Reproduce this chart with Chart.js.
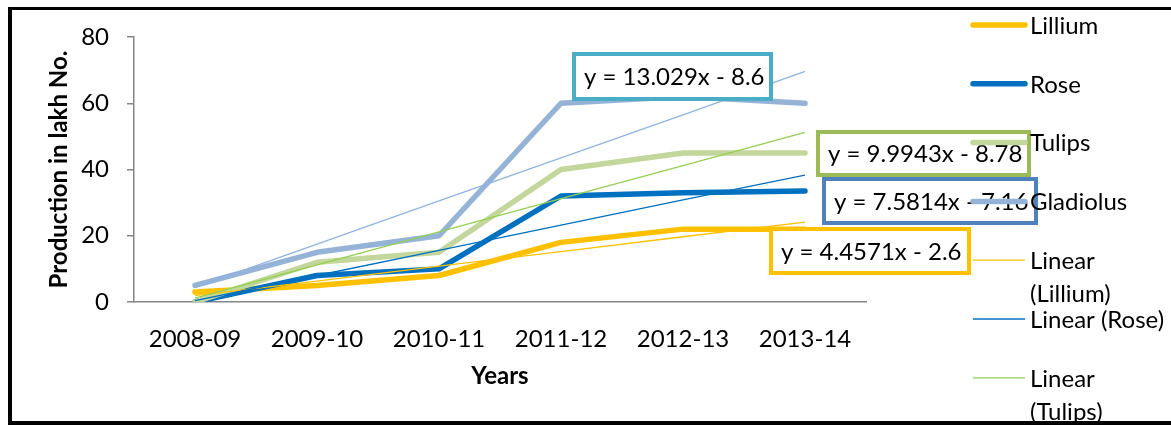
<!DOCTYPE html>
<html>
<head>
<meta charset="utf-8">
<script src="https://cdn.jsdelivr.net/npm/chart.js@4/dist/chart.umd.min.js"></script>
<style>
  html, body { margin: 0; padding: 0; background: #fff; }
  #wrap { position: relative; width: 1171px; height: 425px; }
</style>
</head>
<body>
<div id="wrap"><canvas id="chart"></canvas></div>
<script>
// data
const years = ['2008-09', '2009-10', '2010-11', '2011-12', '2012-13', '2013-14'];
const lillium = [3, 5, 8, 18, 22, 22];
const rose = [0, 8, 10, 32, 33, 33.5];
const tulips = [0, 12, 15, 40, 45, 45];
const gladiolus = [5, 15, 20, 60, 62, 60];

// trend lines
const trendLillium = [1.9, 6.3, 10.8, 15.2, 19.7, 24.1];
const trendRose = [0.4, 8.0, 15.6, 23.2, 30.8, 38.3];
const trendTulips = [1.2, 11.2, 21.2, 31.2, 41.2, 51.2];
const trendGladiolus = [4.4, 17.5, 30.5, 43.5, 56.5, 69.6];

const yTicks = [0, 20, 40, 60, 80];
const equations = ['y = 13.029x - 8.6', 'y = 9.9943x - 8.78', 'y = 7.5814x - 7.16', 'y = 4.4571x - 2.6'];

const FONT = 'Lato';
const FS = 24;

// equation label boxes (layout only)
const eqBoxes = [
  { x: 574, y: 54, w: 197, h: 45, color: '#4BACC6' },
  { x: 818, y: 132, w: 211, h: 43, color: '#9BBB59' },
  { x: 824, y: 179, w: 212, h: 44, color: '#4F81BD' },
  { x: 771, y: 229, w: 198, h: 44, color: '#FFC000' }
];

const overlay = {
  id: 'overlay',
  afterDraw(chart) {
    const ctx = chart.ctx;
    ctx.save();

    // trendline equations
    ctx.font = FS + 'px ' + FONT;
    ctx.textBaseline = 'middle';
    ctx.textAlign = 'left';
    eqBoxes.forEach((b, i) => {
      ctx.fillStyle = '#fff';
      ctx.fillRect(b.x, b.y, b.w, b.h);
      ctx.lineWidth = 4;
      ctx.strokeStyle = b.color;
      ctx.strokeRect(b.x, b.y, b.w, b.h);
      ctx.fillStyle = '#000';
      ctx.fillText(equations[i], b.x + 10, b.y + b.h / 2 + 1);
    });

    // legend (last entry cut off by the frame, like the original)
    const sets = chart.data.datasets.slice(0, 7);
    let y = 25;
    sets.forEach(ds => {
      ctx.beginPath();
      ctx.lineCap = ds.borderWidth > 3 ? 'round' : 'butt';
      ctx.lineWidth = ds.borderWidth;
      ctx.strokeStyle = ds.borderColor;
      ctx.moveTo(973, y);
      ctx.lineTo(1025, y);
      ctx.stroke();
      ctx.fillStyle = '#000';
      const words = ds.label.split(' ');
      const lines = [];
      let cur = '';
      words.forEach(w => {
        const t = cur ? cur + ' ' + w : w;
        if (cur && ctx.measureText(t).width > 142) { lines.push(cur); cur = w; }
        else cur = t;
      });
      lines.push(cur);
      lines.forEach((l, k) => ctx.fillText(l, 1030, y + 1 + k * 33));
      y += 58.8;
    });

    // outer frame
    ctx.fillStyle = '#000';
    ctx.fillRect(8, 7, 1171, 3);
    ctx.fillRect(8, 421, 1171, 4);
    ctx.fillRect(8, 7, 4, 418);
    ctx.restore();
  }
};

function line(label, data, color, width, order) {
  return {
    label, data, order,
    borderColor: color,
    backgroundColor: color,
    borderWidth: width,
    pointRadius: 0,
    tension: 0,
    fill: false,
    borderCapStyle: width > 3 ? 'round' : 'butt',
    borderJoinStyle: 'round'
  };
}

function draw() {
  new Chart(document.getElementById('chart'), {
    type: 'line',
    data: {
      labels: years,
      datasets: [
        line('Lillium', lillium, '#FFC000', 5.5, 7),
        line('Rose', rose, '#0070C0', 5.5, 6),
        line('Tulips', tulips, '#C3D69B', 5.5, 5),
        line('Gladiolus', gladiolus, '#95B3D7', 5.5, 4),
        line('Linear (Lillium)', trendLillium, '#FFC000', 1.3, 3),
        line('Linear (Rose)', trendRose, '#0070C0', 1.3, 2),
        line('Linear (Tulips)', trendTulips, '#92D050', 1.3, 1),
        line('Linear (Gladiolus)', trendGladiolus, '#8DB4E2', 1.3, 0)
      ]
    },
    options: {
      responsive: true,
      maintainAspectRatio: false,
      animation: false,
      layout: { padding: { top: 37, right: 305, bottom: 0, left: 0 } },
      plugins: { legend: { display: false }, tooltip: { enabled: false } },
      scales: {
        x: {
          offset: true,
          afterFit(s) { s.height = 123; },
          grid: { drawOnChartArea: false, drawTicks: false },
          border: { color: '#868686', width: 1.5 },
          ticks: { color: '#000', font: { family: FONT, size: FS }, padding: 23, maxRotation: 0 },
          title: { display: true, text: 'Years', color: '#000', font: { family: FONT, size: FS, weight: 'bold' }, padding: { top: 34, bottom: 34 } }
        },
        y: {
          min: 0, max: 80,
          afterFit(s) { s.width = 134; },
          afterBuildTicks(s) { s.ticks = yTicks.map(v => ({ value: v })); },
          grid: { drawOnChartArea: false, color: '#868686', tickLength: 7, lineWidth: 1.5 },
          border: { color: '#868686', width: 1.5 },
          ticks: { color: '#000', font: { family: FONT, size: FS }, padding: 18 },
          title: { display: true, text: 'Production in lakh No.', color: '#000', font: { family: FONT, size: FS, weight: 'bold' }, padding: { top: 45, bottom: 45 } }
        }
      }
    },
    plugins: [overlay]
  });
}

Promise.all([document.fonts.load(FS + 'px Lato'), document.fonts.load('bold ' + FS + 'px Lato')]).then(draw, draw);
</script>
</body>
</html>
